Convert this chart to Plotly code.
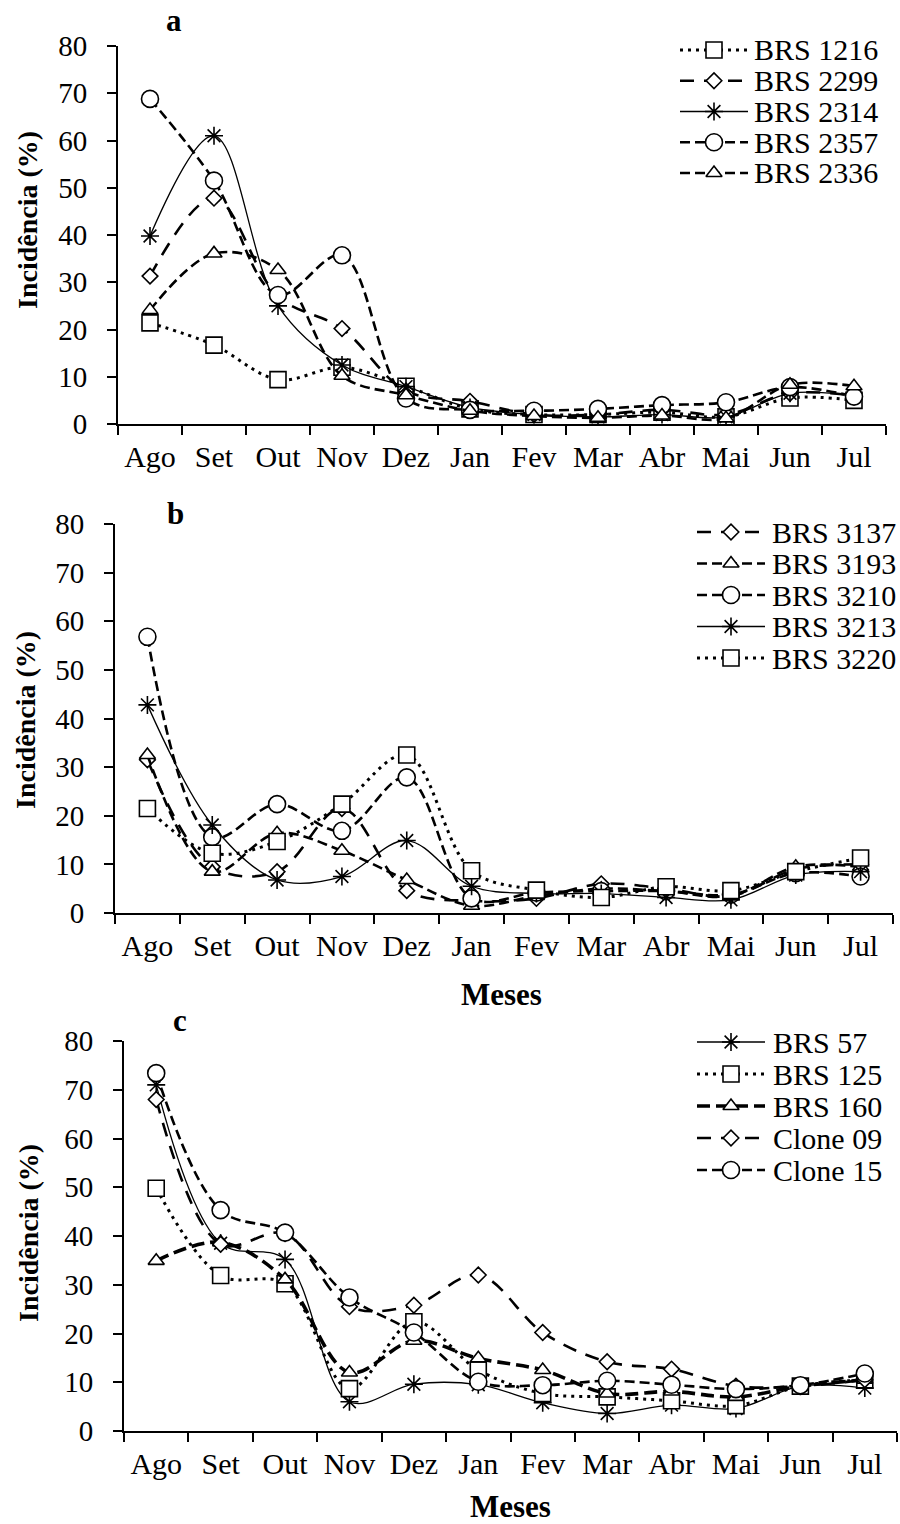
import plotly.graph_objects as go

W, H = 900, 1524

# ---------------- data ----------------
months = ["Ago", "Set", "Out", "Nov", "Dez", "Jan", "Fev", "Mar", "Abr", "Mai", "Jun", "Jul"]

# panel a
a_names = ["BRS 1216", "BRS 2299", "BRS 2314", "BRS 2357", "BRS 2336"]
a_brs1216 = [21.4, 16.7, 9.4, 12.0, 8.0, 3.2, 2.0, 2.0, 2.5, 1.5, 5.5, 5.0]
a_brs2299 = [31.3, 47.8, 27.0, 20.2, 7.0, 4.8, 2.0, 2.0, 3.0, 2.0, 6.5, 6.0]
a_brs2314 = [39.8, 61.0, 25.0, 12.5, 7.9, 3.5, 2.0, 1.5, 2.0, 1.5, 6.5, 6.0]
a_brs2357 = [68.8, 51.5, 27.3, 35.7, 5.4, 3.0, 2.8, 3.2, 4.0, 4.6, 7.8, 5.8]
a_brs2336 = [24.1, 36.1, 32.6, 10.2, 6.1, 2.8, 1.7, 1.3, 1.8, 1.2, 8.3, 8.0]

# panel b
b_names = ["BRS 3137", "BRS 3193", "BRS 3210", "BRS 3213", "BRS 3220"]
b_brs3137 = [31.5, 9.5, 8.5, 21.5, 4.6, 2.5, 3.0, 6.0, 5.0, 3.5, 9.0, 10.0]
b_brs3193 = [32.5, 8.5, 16.4, 12.8, 6.8, 1.5, 3.5, 5.0, 4.5, 3.5, 9.5, 9.5]
b_brs3210 = [56.8, 15.6, 22.4, 16.9, 27.9, 3.0, 4.2, 4.5, 4.5, 3.8, 8.2, 7.5]
b_brs3213 = [42.8, 18.1, 6.8, 7.5, 14.9, 5.5, 4.0, 4.0, 3.2, 2.7, 7.8, 8.5]
b_brs3220 = [21.5, 12.3, 14.7, 22.4, 32.5, 8.7, 4.7, 3.2, 5.4, 4.6, 8.5, 11.3]

# panel c
c_names = ["BRS 57", "BRS 125", "BRS 160", "Clone 09", "Clone 15"]
c_brs57 = [71.0, 38.5, 35.2, 6.0, 9.6, 9.5, 5.8, 3.6, 5.3, 4.6, 9.2, 8.8]
c_brs125 = [49.8, 31.9, 30.2, 8.7, 22.4, 12.5, 7.7, 7.0, 6.2, 5.2, 9.2, 10.5]
c_brs160 = [34.9, 38.7, 31.1, 12.0, 18.5, 14.9, 12.5, 7.7, 8.1, 7.0, 9.2, 10.5]
c_clone09 = [68.0, 38.3, 40.5, 25.5, 25.8, 32.0, 20.2, 14.2, 12.7, 9.2, 9.2, 10.5]
c_clone15 = [73.4, 45.3, 40.7, 27.4, 20.2, 10.1, 9.4, 10.3, 9.5, 8.6, 9.4, 11.8]

y_ticks = [0, 10, 20, 30, 40, 50, 60, 70, 80]
y_title = "Incidência (%)"
x_title = "Meses"
panel_letters = ["a", "b", "c"]

# ---------------- styles ----------------
FONT = "Liberation Serif, Times New Roman, serif"
LINES = {
    "dot": dict(dash="3px,5px", width=3),
    "longdash": dict(dash="14px,10px", width=2.6),
    "solid": dict(dash="solid", width=1.3),
    "dash": dict(dash="10px,5px", width=2.6),
    "thickdash": dict(dash="13px,6px", width=3.6),
}
MARKS = {
    "square": ("square", 16),
    "diamond": ("diamond", 12),
    "asterisk": ("asterisk-open", 15),
    "circle": ("circle", 17),
    "triangle": ("triangle-up", 14),
}

panels = [
    dict(names=a_names, series=[a_brs1216, a_brs2299, a_brs2314, a_brs2357, a_brs2336],
         styles=[("dot", "square"), ("longdash", "diamond"), ("solid", "asterisk"),
                 ("dash", "circle"), ("dash", "triangle")],
         xpx=(118, 886), ypx=(46, 424), leg_x=(680, 748), leg_rows=(50, 173), text_x=753,
         letter=(174, 21), ytitle=(27, 220), xtitle=None),
    dict(names=b_names, series=[b_brs3137, b_brs3193, b_brs3210, b_brs3213, b_brs3220],
         styles=[("longdash", "diamond"), ("dash", "triangle"), ("dash", "circle"),
                 ("solid", "asterisk"), ("dot", "square")],
         xpx=(115, 893), ypx=(524, 913), leg_x=(697, 765), leg_rows=(532, 658), text_x=771,
         letter=(175, 513), ytitle=(25, 720), xtitle=(501, 994)),
    dict(names=c_names, series=[c_brs57, c_brs125, c_brs160, c_clone09, c_clone15],
         styles=[("solid", "asterisk"), ("dot", "square"), ("thickdash", "triangle"),
                 ("longdash", "diamond"), ("dash", "circle")],
         xpx=(124, 897), ypx=(1041, 1431), leg_x=(697, 765), leg_rows=(1042, 1170), text_x=772,
         letter=(180, 1020), ytitle=(28, 1233), xtitle=(510, 1506)),
]


def fx(px):
    return px / W


def fy(py):
    return 1 - py / H


fig = go.Figure()
layout = dict(
    width=W, height=H, margin=dict(l=0, r=0, t=0, b=0, pad=0, autoexpand=False),
    paper_bgcolor="white", plot_bgcolor="white", showlegend=False,
    font=dict(family=FONT, size=30, color="black"),
)
annotations = []


def marker_dict(mkey):
    sym, size = MARKS[mkey]
    fill = "black" if sym.startswith("asterisk") else "white"
    return dict(symbol=sym, size=size, color=fill,
                line=dict(color="black", width=1.6))


for k, p in enumerate(panels):
    n = k + 1
    xa = "x" if n == 1 else f"x{n}"
    ya = "y" if n == 1 else f"y{n}"
    xk = "xaxis" if n == 1 else f"xaxis{n}"
    yk = "yaxis" if n == 1 else f"yaxis{n}"

    layout[xk] = dict(
        domain=[fx(p["xpx"][0]), fx(p["xpx"][1])], anchor=ya,
        type="category", categoryorder="array", categoryarray=months,
        range=[-0.5, len(months) - 0.5], tickson="boundaries",
        showline=True, linecolor="black", linewidth=2,
        ticks="outside", ticklen=9, tickwidth=2, tickcolor="black",
        showgrid=False, zeroline=False, ticklabelstandoff=5, automargin=False,
        tickfont=dict(family=FONT, size=30, color="black"), fixedrange=True,
    )
    layout[yk] = dict(
        domain=[fy(p["ypx"][1]), fy(p["ypx"][0])], anchor=xa,
        range=[0, 80], tickvals=y_ticks,
        showline=True, linecolor="black", linewidth=2,
        ticks="outside", ticklen=9, tickwidth=2, tickcolor="black",
        showgrid=False, zeroline=False, ticklabelstandoff=14, automargin=False,
        tickfont=dict(family=FONT, size=29, color="black"), fixedrange=True,
    )

    for name, vals, (lkey, mkey) in zip(p["names"], p["series"], p["styles"]):
        fig.add_trace(go.Scatter(
            x=months, y=vals, name=name, mode="lines+markers",
            xaxis=xa, yaxis=ya,
            line=dict(color="black", shape="spline", smoothing=1.0, **LINES[lkey]),
            marker=marker_dict(mkey), cliponaxis=False,
        ))

    # manual legend on its own hidden axes
    ln = n + 3
    lxa, lya = f"x{ln}", f"y{ln}"
    nrows = len(p["names"])
    r0, r1 = p["leg_rows"]
    step = (r1 - r0) / (nrows - 1)
    layout[f"xaxis{ln}"] = dict(domain=[fx(p["leg_x"][0]), fx(p["leg_x"][1])], anchor=lya,
                                range=[0, 1], visible=False, fixedrange=True)
    layout[f"yaxis{ln}"] = dict(domain=[fy(r1 + step / 2), fy(r0 - step / 2)], anchor=lxa,
                                range=[nrows - 0.5, -0.5], visible=False, fixedrange=True)
    for i, (name, (lkey, mkey)) in enumerate(zip(p["names"], p["styles"])):
        fig.add_trace(go.Scatter(
            x=[0, 1], y=[i, i], mode="lines", xaxis=lxa, yaxis=lya, hoverinfo="skip",
            line=dict(color="black", **LINES[lkey]), cliponaxis=False,
        ))
        fig.add_trace(go.Scatter(
            x=[0.5], y=[i], mode="markers", xaxis=lxa, yaxis=lya, hoverinfo="skip",
            marker=marker_dict(mkey), cliponaxis=False,
        ))
        annotations.append(dict(
            xref=lxa, yref=lya, x=1, y=i, text=name, showarrow=False,
            xanchor="left", yanchor="middle", xshift=p["text_x"] - p["leg_x"][1],
            borderpad=0, font=dict(family=FONT, size=30, color="black"),
        ))

    # panel letter
    annotations.append(dict(
        xref="paper", yref="paper", x=fx(p["letter"][0]), y=fy(p["letter"][1]),
        text=f"<b>{panel_letters[k]}</b>", showarrow=False, xanchor="center", yanchor="middle",
        borderpad=0, font=dict(family=FONT, size=31, color="black"),
    ))
    # y title
    annotations.append(dict(
        xref="paper", yref="paper", x=fx(p["ytitle"][0]), y=fy(p["ytitle"][1]),
        text=f"<b>{y_title}</b>", showarrow=False, textangle=-90,
        xanchor="center", yanchor="middle",
        borderpad=0, font=dict(family=FONT, size=28, color="black"),
    ))
    if p["xtitle"]:
        annotations.append(dict(
            xref="paper", yref="paper", x=fx(p["xtitle"][0]), y=fy(p["xtitle"][1]),
            text=f"<b>{x_title}</b>", showarrow=False, xanchor="center", yanchor="middle",
            borderpad=0, font=dict(family=FONT, size=31, color="black"),
        ))

layout["annotations"] = annotations
fig.update_layout(**layout)
fig.write_html("out.html")
